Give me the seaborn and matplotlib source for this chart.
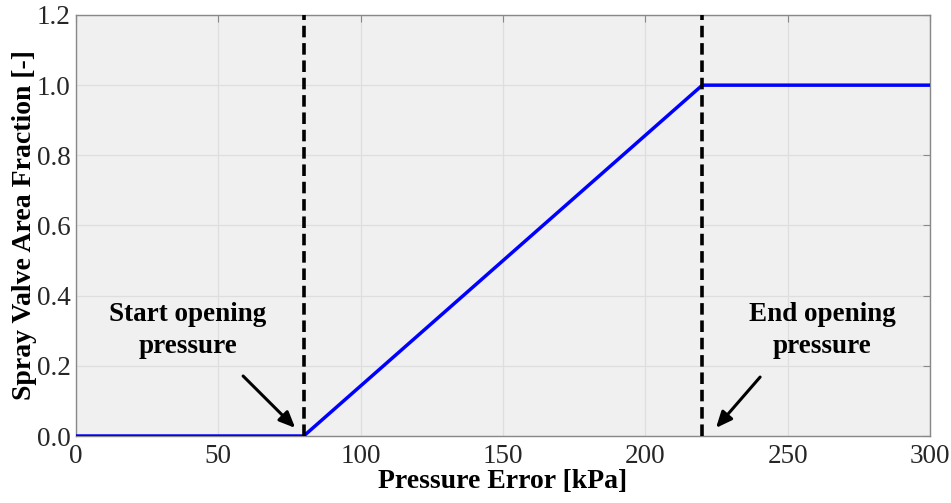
import matplotlib
matplotlib.use("Agg")
import matplotlib.pyplot as plt
import seaborn as sns
import pandas as pd

# Valve opening schedule
pressure_error = [0, 80, 220, 300]
area_fraction = [0.0, 0.0, 1.0, 1.0]
start_open = 80
end_open = 220

x_ticks = [0, 50, 100, 150, 200, 250, 300]
y_ticks = [0.0, 0.2, 0.4, 0.6, 0.8, 1.0, 1.2]

sns.set_theme(style="whitegrid", rc={
    "axes.facecolor": "#f0f0f0",
    "axes.edgecolor": "#888888",
    "grid.color": "#dedede",
    "grid.linewidth": 0.9,
    "xtick.direction": "in",
    "ytick.direction": "in",
    "text.color": "black",
    "axes.labelcolor": "black",
    "xtick.labelcolor": "#262626",
    "ytick.labelcolor": "#262626",
})
plt.rcParams["font.family"] = ["Liberation Serif", "DejaVu Serif"]

df = pd.DataFrame({"x": pressure_error, "y": area_fraction})

fig = plt.figure(figsize=(9.51, 5.03), dpi=100)
ax = fig.add_axes([0.0799, 0.1332, 0.8981, 0.8370])

sns.lineplot(data=df, x="x", y="y", ax=ax, color="#0000ff", linewidth=2.5, zorder=3)
for xv in (start_open, end_open):
    ax.axvline(xv, color="black", linestyle=(0, (3.2, 1.6)), linewidth=2.6, zorder=4)

ax.set_xlim(0, 300)
ax.set_ylim(0, 1.2)
ax.set_xticks(x_ticks)
ax.set_yticks(y_ticks)
ax.set_yticklabels([f"{v:.1f}" for v in y_ticks])
ax.tick_params(axis="both", labelsize=19.5, length=5, width=0.8, color="#888888",
               top=True, right=True)
ax.tick_params(axis="x", pad=6)
ax.tick_params(axis="y", pad=4)
for s in ax.spines.values():
    s.set_linewidth(1.0)
    s.set_color("#888888")

ax.set_xlabel("Pressure Error [kPa]", fontsize=20, fontweight="bold", labelpad=0)
ax.set_ylabel("Spray Valve Area Fraction [-]", fontsize=20, fontweight="bold", labelpad=0)

arrow = dict(arrowstyle="-|>,head_length=0.8,head_width=0.35", color="black",
             lw=2.2, shrinkA=0, shrinkB=0)
ax.annotate("", xy=(77, 0.023), xytext=(58.7, 0.171), arrowprops=arrow, zorder=5)
ax.annotate("", xy=(224.8, 0.023), xytext=(240.3, 0.168), arrowprops=arrow, zorder=5)
ax.text(39.3, 0.30, "Start opening\npressure", ha="center", va="center",
        fontsize=19.5, fontweight="bold", linespacing=1.35)
ax.text(262, 0.30, "End opening\npressure", ha="center", va="center",
        fontsize=19.5, fontweight="bold", linespacing=1.35)

fig.savefig("out.png", dpi=100)
